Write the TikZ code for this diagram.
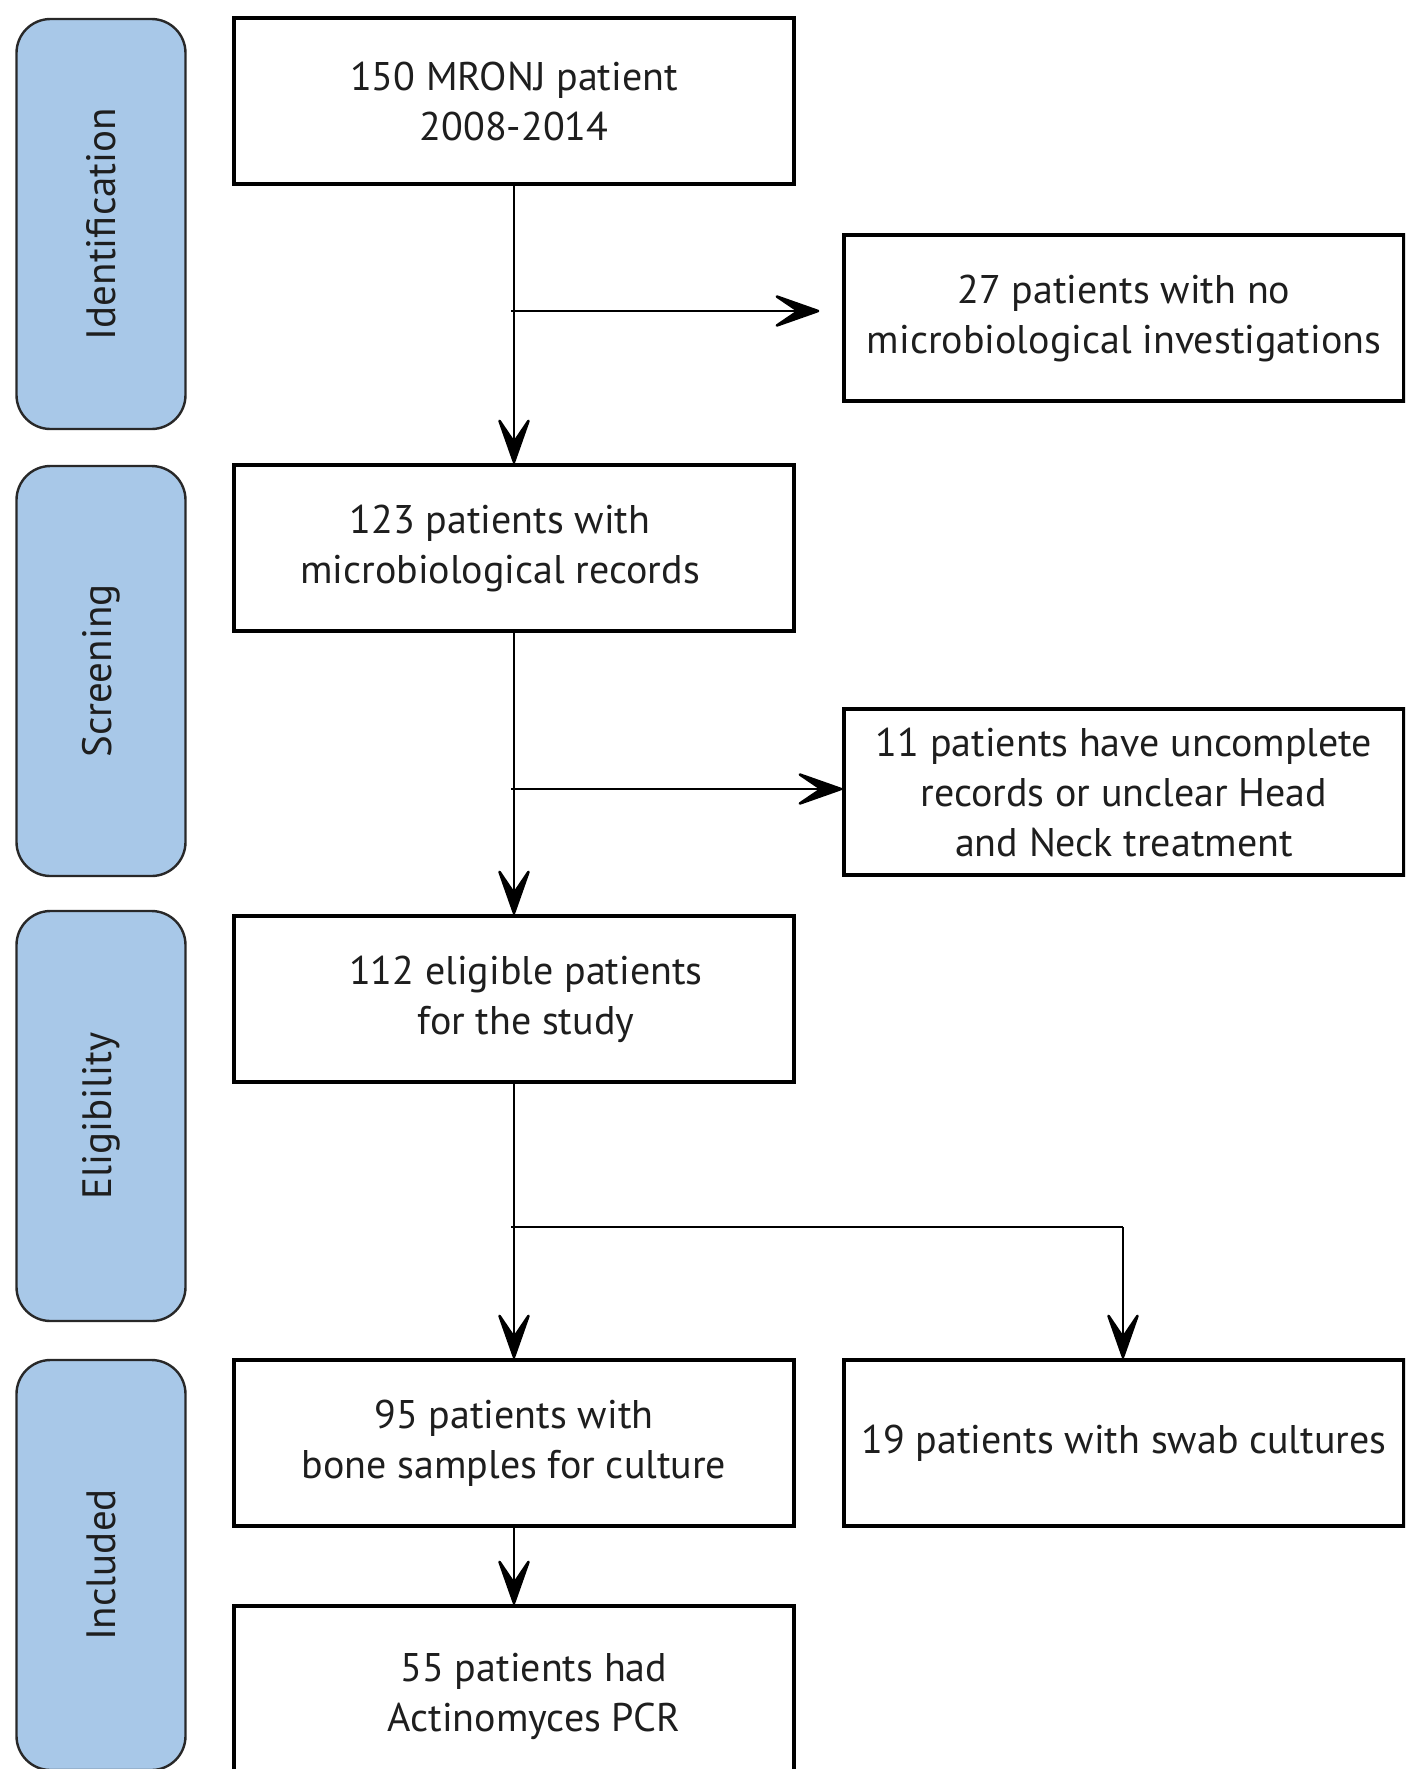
\documentclass[tikz,border=0pt]{standalone}
\usepackage{fontspec}
\setmainfont{PT Sans}
\usepackage{tikz}
\usetikzlibrary{arrows.meta}
\definecolor{StageBlue}{RGB}{168,200,232}
\definecolor{StageEdge}{RGB}{40,40,40}
\definecolor{TextGray}{RGB}{30,30,30}

\begin{document}
\begin{tikzpicture}[x=0.5pt, y=-0.5pt,
          box/.style={rectangle, draw=black, line width=1.7pt, fill=white,
                      minimum width=280pt, minimum height=83pt, align=center,
                      inner sep=2pt, text=TextGray,
                      font=\fontsize{20}{25}\selectfont},
          stage/.style={rectangle, rounded corners=17pt, draw=StageEdge,
                        line width=1.2pt, fill=StageBlue, minimum width=84.5pt,
                        minimum height=205pt, text=TextGray,
                        font=\fontsize{20.5}{24}\selectfont},
          arr/.style={-{Stealth[length=27pt, width=19pt, inset=14pt, round]},
                      draw=black, line width=1.3pt}
        ]
        \clip (0,0) rectangle (1405,1769);
        \fill[white] (0,0) rectangle (1405,1769);

        % Stage labels
        \node[stage] (sid)  at (101, 224)  {\rotatebox{90}{Identification}};
        \node[stage] (sscr) at (101, 671)  {\rotatebox{90}{Screening}};
        \node[stage] (selg) at (101, 1116) {\rotatebox{90}{Eligibility}};
        \node[stage] (sinc) at (101, 1565) {\rotatebox{90}{Included}};

        % Main column
        \node[box] (all)  at (514, 101)  {150 MRONJ patient\\2008-2014};
        \node[box] (rec)  at (514, 548)  {\hspace*{-14pt}\begin{tabular}{c}123 patients with\\microbiological records\end{tabular}};
        \node[box] (elig) at (514, 999)  {\hspace*{12pt}\begin{tabular}{c}112 eligible patients\\for the study\end{tabular}};
        \node[box] (bone) at (514, 1443) {95 patients with\\bone samples for culture};
        \node[box, minimum height=90pt] (pcr) at (514, 1696)
              {\hspace*{20pt}\raisebox{12pt}{\begin{tabular}{c}55 patients had\\Actinomyces PCR\end{tabular}}};

        % Excluded
        \node[box] (noinv) at (1124, 318) {27 patients with no\\microbiological investigations};
        \node[box] (uncl)  at (1124, 792) {11 patients have uncomplete\\records or unclear Head\\and Neck treatment};
        \node[box] (swab)  at (1124, 1443) {19 patients with swab cultures};

        % Branch points
        \coordinate (b1) at (511, 311);
        \coordinate (b2) at (511, 789);
        \coordinate (b3) at (511, 1227);
        \coordinate (b4) at (1123, 1227);

        \draw[arr] (all)  -- (rec);
        \draw[arr] (rec)  -- (elig);
        \draw[arr] (elig) -- (bone);
        \draw[arr] (bone) -- (pcr);
        \draw[arr, shorten >=11.5pt] (b1) -- (b1 -| noinv.west);
        \draw[arr] (b2) -- (b2 -| uncl.west);
        \draw[line width=1.3pt] (b3) -- (b4);
        \draw[arr] (b4) -- (b4 |- swab.north);
      \end{tikzpicture}
\end{document}
